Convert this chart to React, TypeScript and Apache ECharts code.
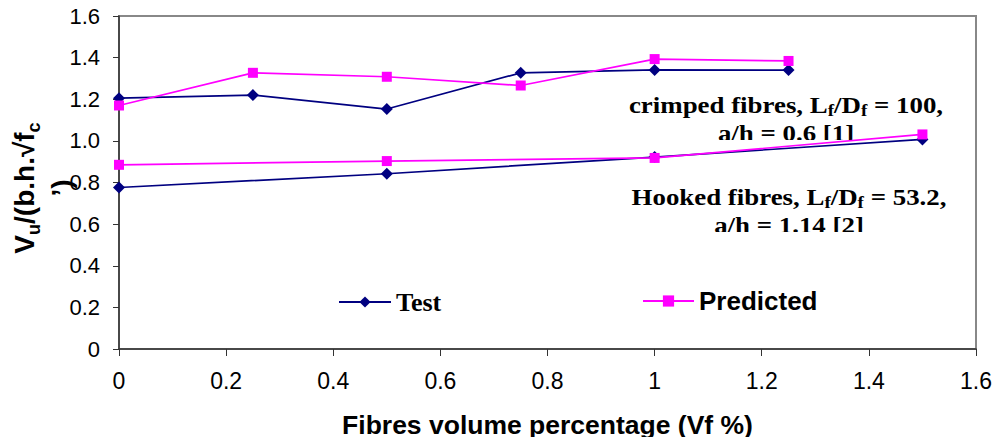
import React, { useEffect, useRef } from "react";
import * as echarts from "echarts";

const crimpedVf = [0, 0.25, 0.5, 0.75, 1.0, 1.25];
const crimpedTest = [1.205, 1.22, 1.153, 1.327, 1.341, 1.34];
const crimpedPredicted = [1.17, 1.327, 1.308, 1.266, 1.393, 1.384];

const hookedVf = [0, 0.5, 1.0, 1.5];
const hookedTest = [0.776, 0.842, 0.922, 1.007];
const hookedPredicted = [0.885, 0.903, 0.918, 1.031];

const seriesNames = ["Test", "Predicted"];
const xAxisTitle = "Fibres volume percentage (Vf %)";

const NAVY = "#000080";
const MAGENTA = "#FF00FF";

const pair = (xs: number[], ys: number[]) => xs.map((x, i) => [x, ys[i]]);

export default function App() {
  const ref = useRef<HTMLDivElement>(null);
  useEffect(() => {
    document.body.style.margin = "0";
    if (!ref.current) return;
    const chart = echarts.init(ref.current, undefined, { renderer: "svg" });
    const serif = "'Liberation Serif', 'Times New Roman', serif";
    const sans = "'Liberation Sans', Arial, sans-serif";
    const annRich = {
      b: { fontFamily: serif, fontWeight: "bold", fontSize: 24, lineHeight: 29, fill: "#000", color: "#000" },
      s: { fontFamily: serif, fontWeight: "bold", fontSize: 17, lineHeight: 23.4, verticalAlign: "bottom", fill: "#000", color: "#000" },
    };
    const testSeries = (data: number[][]) => ({
      type: "line",
      name: seriesNames[0],
      data,
      symbol: "diamond",
      symbolSize: 12,
      lineStyle: { color: NAVY, width: 1.7 },
      itemStyle: { color: NAVY },
      z: 3,
    });
    const predSeries = (data: number[][]) => ({
      type: "line",
      name: seriesNames[1],
      data,
      symbol: "rect",
      symbolSize: 10,
      lineStyle: { color: MAGENTA, width: 1.7 },
      itemStyle: { color: MAGENTA },
      z: 4,
    });
    chart.setOption({
      animation: false,
      backgroundColor: "#fff",
      grid: {
        left: 119,
        right: 19,
        top: 16,
        bottom: 87,
        show: true,
        borderColor: "#888",
        borderWidth: 2,
        backgroundColor: "transparent",
      },
      legend: [
        {
          data: [seriesNames[0]],
          left: 333,
          top: 284,
          itemWidth: 52,
          itemHeight: 14,
          textStyle: { fontFamily: serif, fontWeight: "bold", fontSize: 26, color: "#000" },
        },
        {
          data: [seriesNames[1]],
          left: 637,
          top: 283,
          itemWidth: 51,
          itemHeight: 14,
          textStyle: { fontFamily: sans, fontWeight: "bold", fontSize: 26, color: "#000" },
        },
      ],
      xAxis: {
        type: "value",
        min: 0,
        max: 1.6,
        interval: 0.2,
        name: xAxisTitle,
        nameLocation: "middle",
        nameGap: 62,
        nameTextStyle: { fontFamily: sans, fontWeight: "bold", fontSize: 26.5, color: "#000" },
        axisLine: { show: true, lineStyle: { color: "#333", width: 1.5 } },
        axisTick: { show: true, length: 7, lineStyle: { color: "#333" } },
        splitLine: { show: false },
        axisLabel: {
          margin: 20,
          fontFamily: sans,
          fontSize: 23,
          color: "#000",
          formatter: (v: number) => String(Number(v.toFixed(1))),
        },
      },
      yAxis: {
        type: "value",
        min: 0,
        max: 1.6,
        interval: 0.2,
        axisLine: { show: true, lineStyle: { color: "#333", width: 1.5 } },
        axisTick: { show: true, length: 6, lineStyle: { color: "#333" } },
        splitLine: { show: false },
        axisLabel: {
          margin: 19,
          fontFamily: sans,
          fontSize: 22,
          color: "#000",
          formatter: (v: number) => (v === 0 ? "0" : v.toFixed(1)),
        },
      },
      graphic: [
        {
          type: "text",
          x: 786,
          y: 90,
          z: 0,
          scaleX: 1.12,
          style: {
            text: "{b|crimped fibres, L}{s|f}{b|/D}{s|f}{b| = 100,}\n{b|a/h = 0.6 [1]}",
            align: "center",
            verticalAlign: "top",
            rich: annRich,
          },
        },
        {
          type: "rect",
          z: 1,
          shape: { x: 700, y: 140, width: 180, height: 12 },
          style: { fill: "#fff" },
        },
        {
          type: "text",
          x: 789,
          y: 182,
          z: 0,
          scaleX: 1.12,
          style: {
            text: "{b|Hooked fibres, L}{s|f}{b|/D}{s|f}{b| = 53.2,}\n{b|a/h = 1.14 [2]}",
            align: "center",
            verticalAlign: "top",
            rich: annRich,
          },
        },
        {
          type: "rect",
          z: 1,
          shape: { x: 700, y: 232, width: 180, height: 16 },
          style: { fill: "#fff" },
        },
        {
          type: "rect",
          z: 100,
          shape: { x: 100, y: 392, width: 895, height: 10 },
          style: { fill: "#fff" },
        },
        {
          type: "rect",
          z: 100,
          shape: { x: 300, y: 437, width: 500, height: 6 },
          style: { fill: "#fff" },
        },
        {
          type: "text",
          x: 43,
          y: 188,
          rotation: Math.PI / 2,
          z: 0,
          style: {
            text: "{a|V}{s|u}{a|/(b.h.√f}{s|c}\n{a|’)}",
            align: "center",
            verticalAlign: "middle",
            rich: {
              a: { fontFamily: sans, fontWeight: "bold", fontSize: 28, lineHeight: 37, fill: "#000", color: "#000" },
              s: { fontFamily: sans, fontWeight: "bold", fontSize: 18, lineHeight: 22, verticalAlign: "bottom", fill: "#000", color: "#000" },
            },
          },
        },
      ],
      series: [
        testSeries(pair(crimpedVf, crimpedTest)),
        predSeries(pair(crimpedVf, crimpedPredicted)),
        testSeries(pair(hookedVf, hookedTest)),
        predSeries(pair(hookedVf, hookedPredicted)),
      ],
    });
    return () => chart.dispose();
  }, []);
  return <div ref={ref} style={{ width: 995, height: 443 }} />;
}
